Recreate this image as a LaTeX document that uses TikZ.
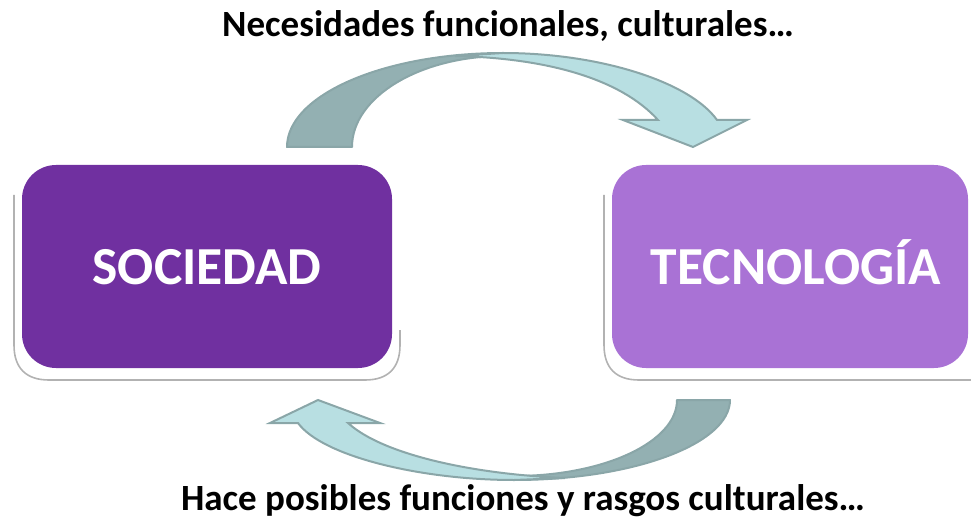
\documentclass[tikz,border=0pt]{standalone}
\usepackage{fontspec}
\setmainfont{Carlito}
\definecolor{darkpurple}{HTML}{7030A0}
\definecolor{lightpurple}{HTML}{A972D5}
\definecolor{arrowdark}{HTML}{93B0B2}
\definecolor{arrowlight}{HTML}{B8DFE2}
\definecolor{arrowline}{HTML}{8AA6A8}
\begin{document}
\begin{tikzpicture}[x=1pt,y=-1pt,
  cardedge/.style={draw=gray!60,line width=1.6pt},
  boxstyle/.style={rounded corners=34pt},
  boxtext/.style={text=white,anchor=base,font=\bfseries\fontsize{53.5}{60}\selectfont},
  caption/.style={text=black,anchor=base,font=\bfseries\fontsize{37}{42}\selectfont},
  arrowback/.style={fill=arrowdark,draw=arrowline,line width=2pt,line join=round},
  arrowfront/.style={fill=arrowlight,draw=arrowline,line width=2pt,line join=miter}]
\useasboundingbox (0,0) rectangle (971,521);
% cards (shadow edges)
\draw[cardedge] (14,195) -- (14,345) .. controls (14,368) and (26,380) .. (49,380)
  -- (365,380) .. controls (388,380) and (400,368) .. (400,345) -- (400,330);
\fill[darkpurple,boxstyle] (22,165) rectangle (392,368);
\node[boxtext] (soc) at (207,284) {SOCIEDAD};
\draw[cardedge] (604,195) -- (604,345) .. controls (604,368) and (616,380) .. (639,380) -- (975,380);
\fill[lightpurple,boxstyle] (612,165) rectangle (968,368);
\node[boxtext] (tec) at (796,284) {TECNOLOGÍA};
% top arrow
\draw[arrowback] (287,147) .. controls (287,95) and (384,53) .. (503,53)
  -- (503,56) .. controls (420,56) and (352,97) .. (352,147) -- cycle;
\draw[arrowfront] (455,56) -- (503,53) .. controls (600,53) and (690,82) .. (717,120)
  -- (747,120) -- (693,147) -- (623,120) -- (658,120)
  .. controls (620,78) and (545,58) .. (455,56) -- cycle;
% bottom arrow
\draw[arrowback] (730,400) .. controls (730,444) and (633,480) .. (514,480)
  -- (514,476) .. controls (604,476) and (677,442) .. (677,400) -- cycle;
\draw[arrowfront] (565,478) -- (514,480) .. controls (420,480) and (322,456) .. (298,423)
  -- (270,423) -- (318,400) -- (380,423) -- (348,423)
  .. controls (382,454) and (470,474) .. (565,478) -- cycle;
% captions
\node[caption] (top) at (508,37) {Necesidades funcionales, culturales…};
\node[caption] (bot) at (523,510) {Hace posibles funciones y rasgos culturales…};
\end{tikzpicture}
\end{document}
